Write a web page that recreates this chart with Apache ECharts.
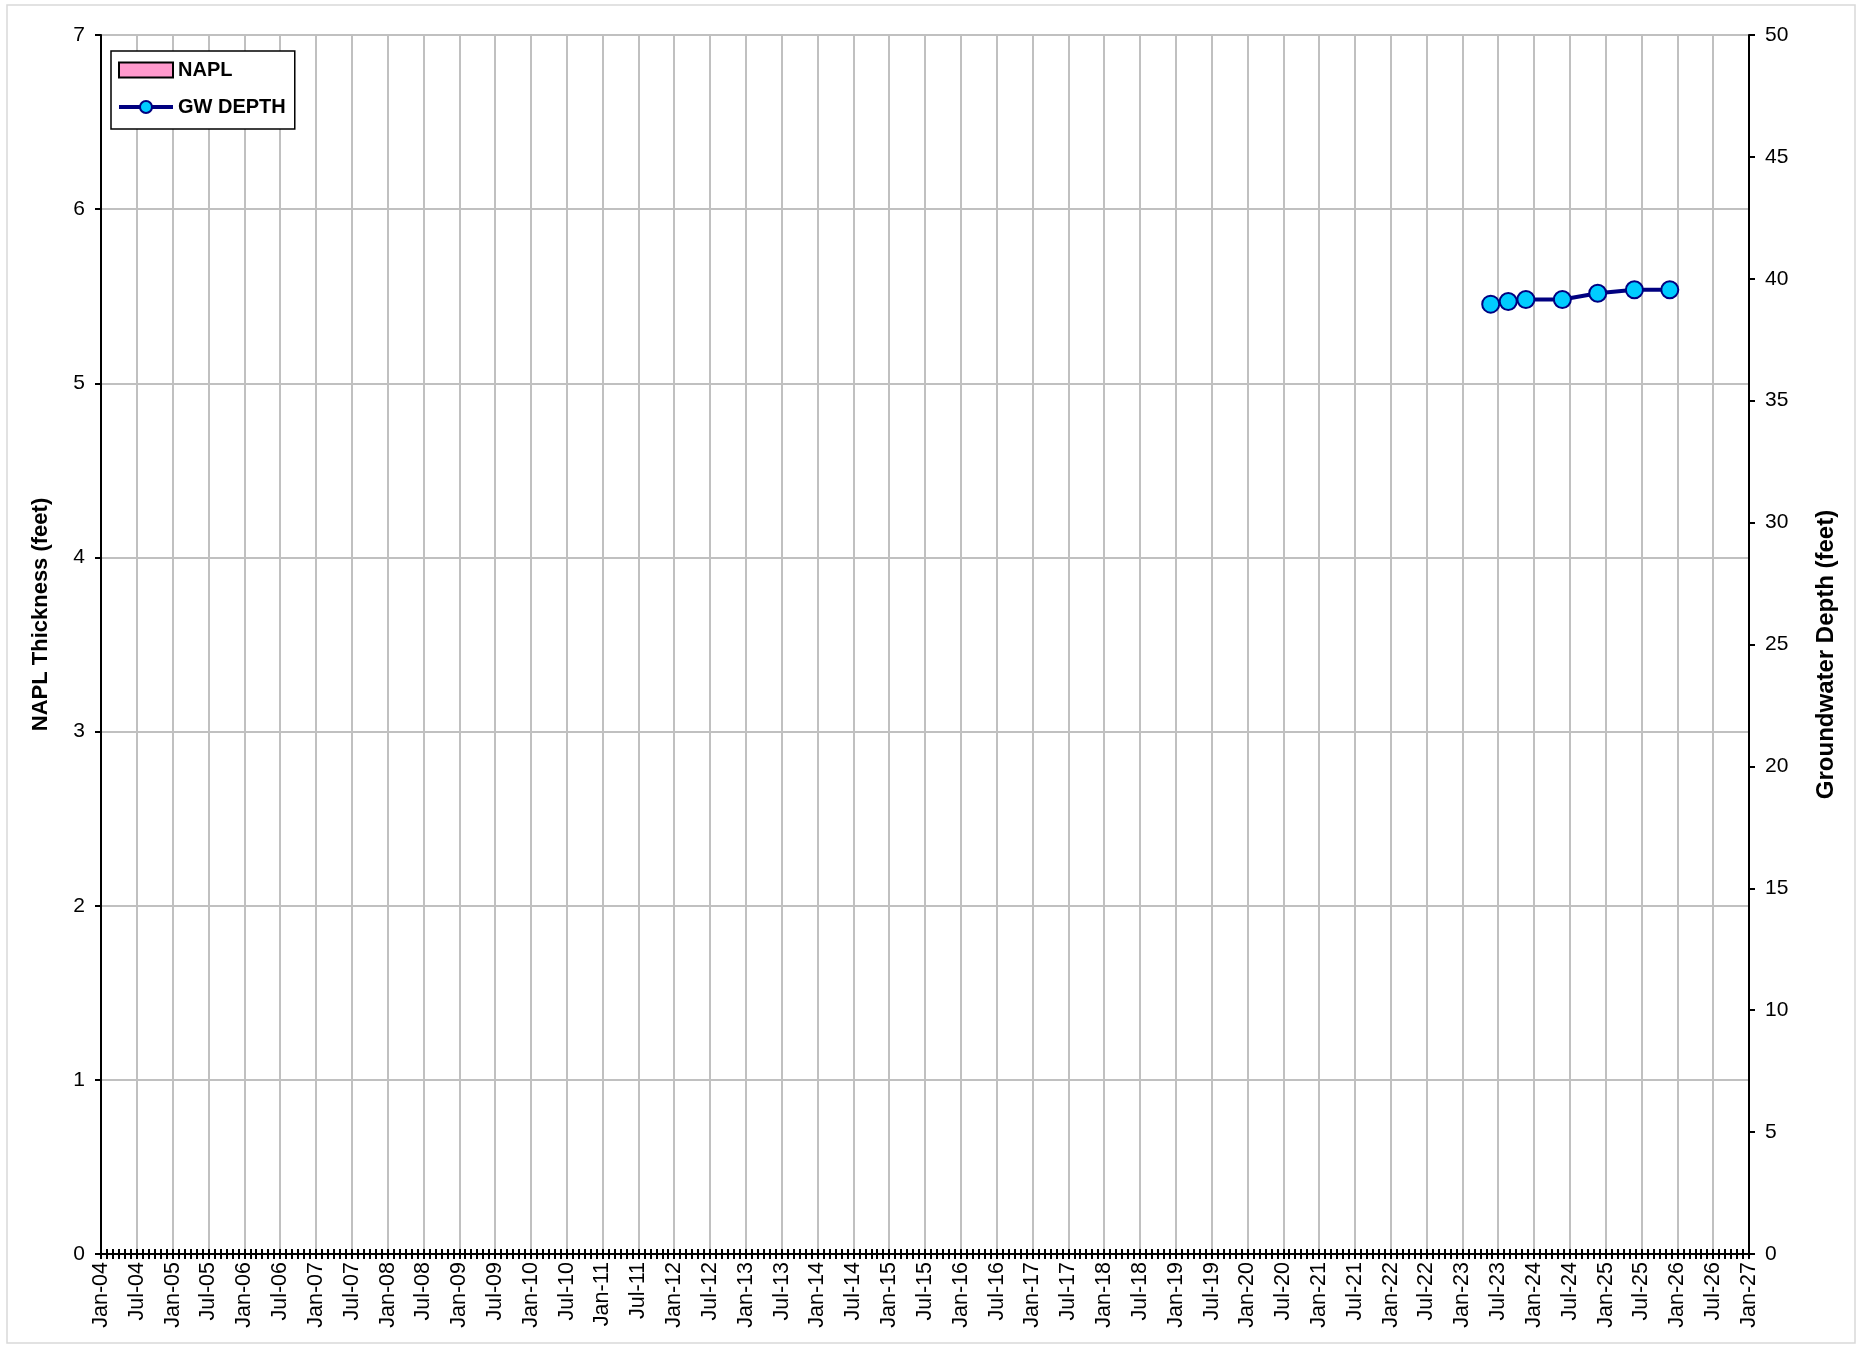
<!DOCTYPE html>
<html>
<head>
<meta charset="utf-8">
<script src="https://cdn.jsdelivr.net/npm/echarts@6/dist/echarts.min.js"></script>
<style>
html,body{margin:0;padding:0;background:#fff;}
#c{width:1859px;height:1347px;}
</style>
</head>
<body>
<div id="c"></div>
<script>
// ---- data ----
const tickLabels = ['Jan-04','Jul-04','Jan-05','Jul-05','Jan-06','Jul-06','Jan-07','Jul-07','Jan-08','Jul-08',
  'Jan-09','Jul-09','Jan-10','Jul-10','Jan-11','Jul-11','Jan-12','Jul-12','Jan-13','Jul-13',
  'Jan-14','Jul-14','Jan-15','Jul-15','Jan-16','Jul-16','Jan-17','Jul-17','Jan-18','Jul-18',
  'Jan-19','Jul-19','Jan-20','Jul-20','Jan-21','Jul-21','Jan-22','Jul-22','Jan-23','Jul-23',
  'Jan-24','Jul-24','Jan-25','Jul-25','Jan-26','Jul-26','Jan-27'];
const sampleDates = ['2023-05-24','2023-08-22','2023-11-20','2024-05-24','2024-11-21','2025-05-26','2025-11-23'];
const gwDepth = [38.96, 39.07, 39.15, 39.15, 39.41, 39.55, 39.55];
const naplThickness = [0, 0, 0, 0, 0, 0, 0];
const seriesNames = ['NAPL', 'GW DEPTH'];
const axisTitles = ['NAPL Thickness (feet)', 'Groundwater Depth (feet)'];

// date string -> months since Jan 2004 (x scale unit)
function toMonths(s) {
  const [y, m, d] = s.split('-').map(Number);
  const dim = new Date(Date.UTC(y, m, 0)).getUTCDate();
  return (y - 2004) * 12 + (m - 1) + (d - 1) / dim;
}
const xMax = (tickLabels.length - 1) * 6;

const font = 'Liberation Sans, Arial, sans-serif';
const chart = echarts.init(document.getElementById('c'));
chart.setOption({
  animation: false,
  backgroundColor: '#fff',
  textStyle: { fontFamily: font },
  graphic: [{
    type: 'rect', shape: { x: 7, y: 5, width: 1848, height: 1338 },
    style: { fill: 'none', stroke: '#d9d9d9', lineWidth: 1.5 }, silent: true, z: -10
  }],
  grid: { left: 101, right: 110, top: 35, bottom: 93, show: true, borderColor: '#000', borderWidth: 2, backgroundColor: 'transparent' },
  legend: {
    left: 111, top: 51, orient: 'vertical',
    backgroundColor: '#fff', borderColor: '#000', borderWidth: 1.5, borderRadius: 0,
    padding: [9, 9, 12, 6], itemGap: 17, itemWidth: 54, itemHeight: 15,
    lineStyle: { width: 4 },
    textStyle: { fontFamily: font, fontSize: 20, fontWeight: 'bold', color: '#000', lineHeight: 20 },
    data: [
      { name: seriesNames[0], icon: 'rect' },
      { name: seriesNames[1] }
    ]
  },
  xAxis: [{
    type: 'value', min: 0, max: xMax, interval: 6, position: 'bottom',
    axisLine: { show: true, onZero: false, lineStyle: { color: '#000', width: 2 } },
    axisTick: { show: true, length: 5, lineStyle: { color: '#000', width: 2 } },
    minorTick: { show: true, splitNumber: 6, length: 5, lineStyle: { color: '#000', width: 2 } },
    splitLine: { show: true, lineStyle: { color: '#c0c0c0', width: 2 } },
    axisLabel: {
      rotate: 90, margin: 8, fontSize: 21.5, color: '#000', fontFamily: font,
      showMinLabel: true, showMaxLabel: true,
      formatter: v => tickLabels[Math.round(v / 6)] || ''
    }
  }, {
    type: 'value', min: 0, max: xMax, interval: 6, position: 'bottom',
    axisLine: { show: false, onZero: false },
    axisTick: { show: true, inside: true, length: 5, lineStyle: { color: '#000', width: 2 } },
    minorTick: { show: true, splitNumber: 6, length: 5, lineStyle: { color: '#000', width: 2 } },
    splitLine: { show: false },
    axisLabel: { show: false }
  }],
  yAxis: [{
    type: 'value', min: 0, max: 7, interval: 1, position: 'left',
    name: axisTitles[0], nameLocation: 'middle', nameGap: 49, nameRotate: 90,
    nameTextStyle: { fontSize: 22, fontWeight: 'bold', color: '#000', fontFamily: font, padding: [0, 0, 0, 60] },
    axisLine: { show: true, onZero: false, lineStyle: { color: '#000', width: 2 } },
    axisTick: { show: true, length: 6, lineStyle: { color: '#000', width: 2 } },
    splitLine: { show: true, lineStyle: { color: '#c0c0c0', width: 2 } },
    axisLabel: { margin: 16, fontSize: 21, color: '#000', fontFamily: font }
  }, {
    type: 'value', min: 0, max: 50, interval: 5, position: 'right',
    name: axisTitles[1], nameLocation: 'middle', nameGap: 65, nameRotate: 90,
    nameTextStyle: { fontSize: 24, fontWeight: 'bold', color: '#000', fontFamily: font, padding: [0, 20, 0, 0] },
    axisLine: { show: true, onZero: false, lineStyle: { color: '#000', width: 2 } },
    axisTick: { show: true, length: 6, lineStyle: { color: '#000', width: 2 } },
    splitLine: { show: false },
    axisLabel: { margin: 16, fontSize: 21, color: '#000', fontFamily: font }
  }],
  series: [{
    name: seriesNames[0], type: 'bar', xAxisIndex: 0, yAxisIndex: 0, barWidth: 6,
    itemStyle: { color: '#ff99cc', borderColor: '#000', borderWidth: 1.5 },
    data: sampleDates.map((d, i) => [toMonths(d), naplThickness[i]])
  }, {
    name: seriesNames[1], type: 'line', xAxisIndex: 0, yAxisIndex: 1,
    symbol: 'circle', symbolSize: 17,
    lineStyle: { color: '#000080', width: 4 },
    itemStyle: { color: '#00ccff', borderColor: '#000080', borderWidth: 2 },
    data: sampleDates.map((d, i) => [toMonths(d), gwDepth[i]]),
    z: 5
  }]
});
</script>
</body>
</html>
